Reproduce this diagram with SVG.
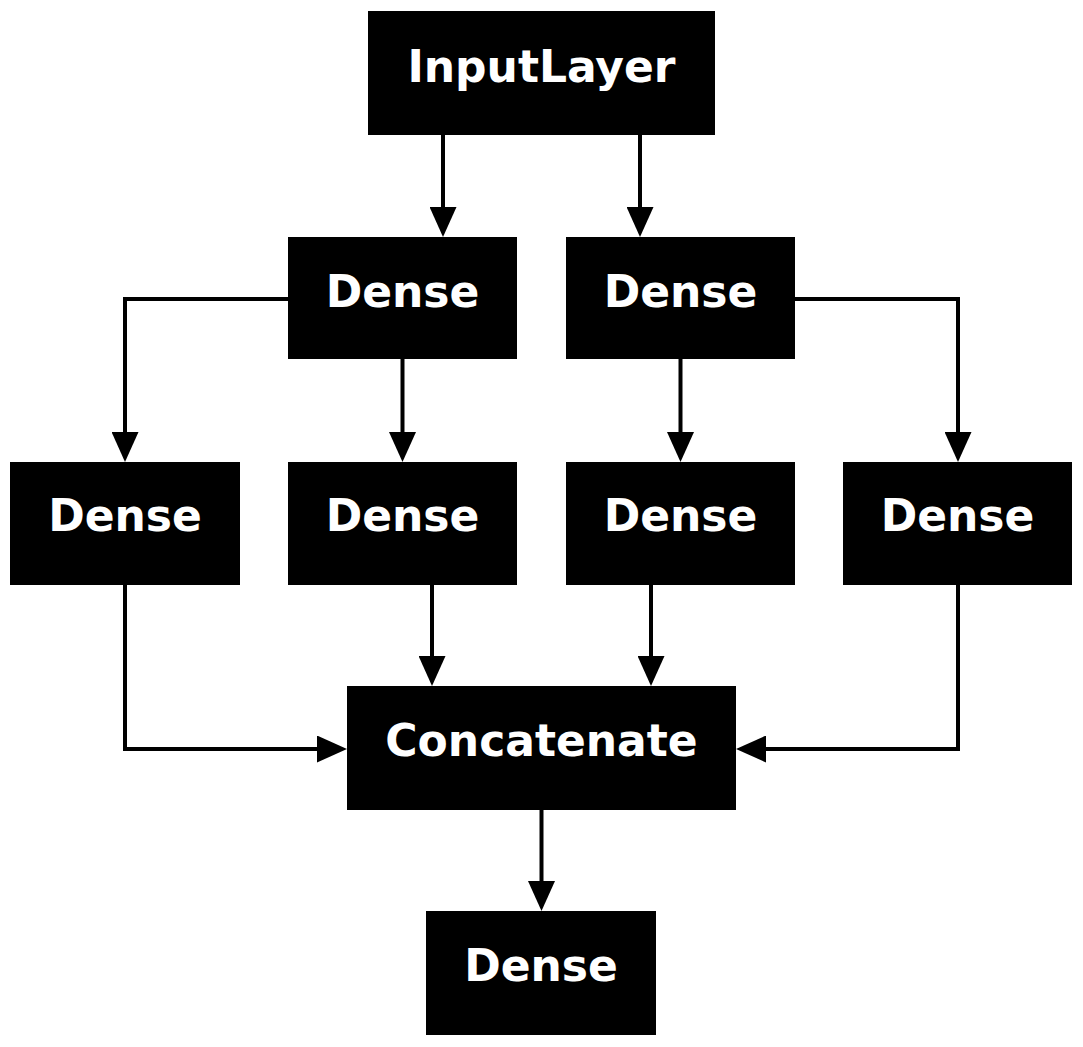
<svg xmlns="http://www.w3.org/2000/svg" width="1083" height="1047" viewBox="0 0 1083 1047">
<defs>
<style>
.node rect{fill:#000;stroke:none}
.node text{fill:#fff;font-family:"DejaVu Sans",sans-serif;font-weight:bold;font-size:44px;text-anchor:middle}
.edge path{fill:none;stroke:#000;stroke-width:4}
</style>
<marker id="ah" markerUnits="userSpaceOnUse" markerWidth="30" markerHeight="27" refX="0" refY="13.5" orient="auto" viewBox="0 0 30 27">
<path d="M0,0 L30,13.5 L0,27 z" fill="#000"/>
</marker>
</defs>
<rect width="1083" height="1047" fill="#fff"/>
<g id="connectors" class="edge">
<path d="M443,135 V207" marker-end="url(#ah)"/>
<path d="M640,135 V207" marker-end="url(#ah)"/>
<path d="M288,299 H125 V432" marker-end="url(#ah)"/>
<path d="M402.5,359 V432" marker-end="url(#ah)"/>
<path d="M680.5,359 V432" marker-end="url(#ah)"/>
<path d="M795,299 H958 V432" marker-end="url(#ah)"/>
<path d="M125,585 V749 H317" marker-end="url(#ah)"/>
<path d="M432,585 V656" marker-end="url(#ah)"/>
<path d="M651,585 V656" marker-end="url(#ah)"/>
<path d="M958,585 V749 H766" marker-end="url(#ah)"/>
<path d="M541.5,810 V881" marker-end="url(#ah)"/>
</g>
<g id="input" class="node"><rect x="368" y="11" width="347" height="124"/><text x="541.5" y="82">InputLayer</text></g>
<g id="dense1" class="node"><rect x="288" y="237" width="229" height="122"/><text x="402.5" y="307">Dense</text></g>
<g id="dense2" class="node"><rect x="566" y="237" width="229" height="122"/><text x="680.5" y="307">Dense</text></g>
<g id="dense3" class="node"><rect x="10" y="462" width="230" height="123"/><text x="125" y="531">Dense</text></g>
<g id="dense4" class="node"><rect x="288" y="462" width="229" height="123"/><text x="402.5" y="531">Dense</text></g>
<g id="dense5" class="node"><rect x="566" y="462" width="229" height="123"/><text x="680.5" y="531">Dense</text></g>
<g id="dense6" class="node"><rect x="843" y="462" width="229" height="123"/><text x="957.5" y="531">Dense</text></g>
<g id="concat" class="node"><rect x="347" y="686" width="389" height="124"/><text x="541.5" y="756">Concatenate</text></g>
<g id="output" class="node"><rect x="426" y="911" width="230" height="124"/><text x="541" y="981">Dense</text></g>
</svg>
